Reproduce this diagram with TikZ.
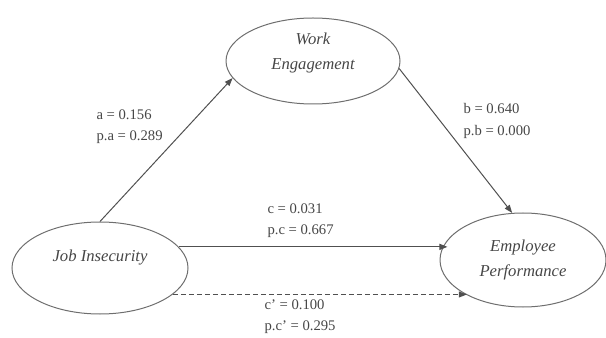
\documentclass[tikz,border=0pt]{standalone}
\usepackage{fontspec}
\setmainfont{Liberation Serif}
\usetikzlibrary{shapes.geometric,arrows.meta}

\tikzset{every picture/.style={line width=0.75pt}}
\tikzset{
  var/.style={ellipse, draw={rgb, 255:red, 110; green, 110; blue, 110 }, inner sep=0pt, align=center,
    text={rgb, 255:red, 70; green, 70; blue, 70 }, font=\fontsize{12.5}{19}\selectfont\itshape},
  path/.style={-{Triangle[length=6pt,width=4.5pt]}, color={rgb, 255:red, 80; green, 80; blue, 80 }},
  coef/.style={anchor=west, align=left, inner sep=0.75pt,
    text={rgb, 255:red, 70; green, 70; blue, 70 }, font=\fontsize{11}{16}\selectfont}
}

\begin{document}
\begin{tikzpicture}[x=0.75pt,y=0.75pt,yscale=-1,xscale=1]
\useasboundingbox (0,0) rectangle (606,338);

%Shape: Ellipse [id:we]
\node [var, minimum width=130.5pt, minimum height=64.5pt] (we) at (313,61) {Work\\Engagement\\[-4pt]\mbox{}};
%Shape: Ellipse [id:ji]
\node [var, minimum width=132pt, minimum height=69pt] (ji) at (100,268) {Job Insecurity\\\mbox{}};
%Shape: Ellipse [id:ep]
\node [var, minimum width=124.5pt, minimum height=70.5pt] (ep) at (523,260) {Employee\\Performance};

%Straight Lines [id:a]
\draw [path] (ji.north) -- (we.192) ;
%Straight Lines [id:b]
\draw [path] (we.355) -- (ep.103) ;
%Straight Lines [id:c]
\draw [path] (ji.15) -- (ji.15 -| ep.165) ;
%Straight Lines [id:cprime]
\draw [path] [dash pattern={on 3.75pt off 2.25pt}] (ji.340) -- (ji.340 -| ep.212) ;

% Text Node
\node [coef] (la) at (95,127) {a = 0.156\\p.a = 0.289};
% Text Node
\node [coef] (lb) at (462,121) {b = 0.640\\p.b = 0.000};
% Text Node
\node [coef] (lc) at (266,221) {c = 0.031\\p.c = 0.667};
% Text Node
\node [coef] (lcp) at (263,317) {c' = 0.100\\p.c' = 0.295};

\end{tikzpicture}
\end{document}
